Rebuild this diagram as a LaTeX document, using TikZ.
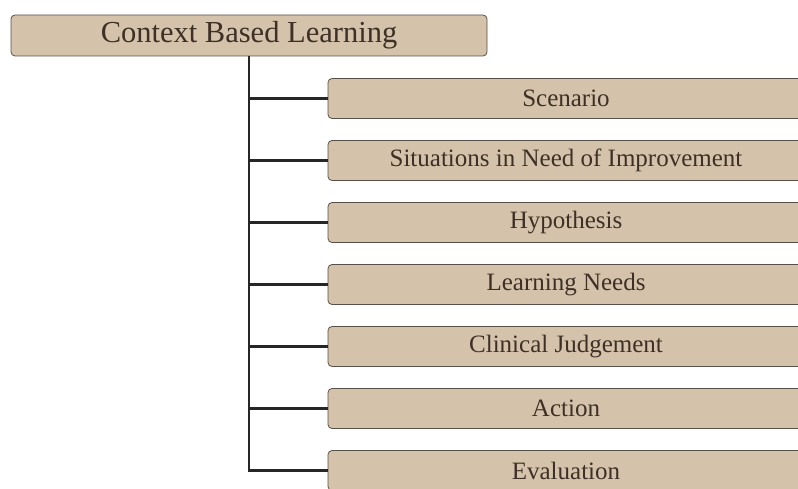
\documentclass[tikz,border=0pt]{standalone}
\usepackage{fontspec}
\setmainfont{Liberation Serif}
\usepackage{tikz}
\usetikzlibrary{positioning}
\definecolor{cbltan}{RGB}{212,194,170}
\definecolor{cbledge}{RGB}{88,80,72}
\definecolor{cbltext}{RGB}{62,48,38}
\tikzset{
  rootbox/.style={draw=cbledge, thick, fill=cbltan, rounded corners=4pt, text=cbltext,
    minimum width=476pt, minimum height=41pt, font=\fontsize{30.5}{33}\selectfont},
  stagebox/.style={draw=cbledge, thick, fill=cbltan, rounded corners=4pt, text=cbltext,
    minimum width=476pt, minimum height=40pt, font=\fontsize{25}{28}\selectfont},
  link/.style={line width=2.6pt, black!85},
}

\begin{document}
\begin{tikzpicture}[x=1pt, y=1pt, node distance=21.2pt]
  \useasboundingbox (0,0) rectangle (798,-489);
  \fill[white] (0,0) rectangle (798,-489);
  \clip (0,0) rectangle (798,-489);
  \node[rootbox] (cbl) at (249,-35.5) {Context Based Learning};
  \node[stagebox] (scen) at (566,-98.5) {Scenario};
  \node[stagebox, below=of scen] (sit) {Situations in Need of Improvement};
  \node[stagebox, below=of sit] (hyp) {Hypothesis};
  \node[stagebox, below=of hyp] (need) {Learning Needs};
  \node[stagebox, below=of need] (judg) {Clinical Judgement};
  \node[stagebox, below=of judg] (act) {Action};
  \node[stagebox, below=of act] (eval) {Evaluation};
  % trunk with one branch per stage
  \draw[link] (cbl.south) |- (scen.west);
  \draw[link] (cbl.south) |- (sit.west);
  \draw[link] (cbl.south) |- (hyp.west);
  \draw[link] (cbl.south) |- (need.west);
  \draw[link] (cbl.south) |- (judg.west);
  \draw[link] (cbl.south) |- (act.west);
  \draw[link] (cbl.south) |- (eval.west);
\end{tikzpicture}
\end{document}
